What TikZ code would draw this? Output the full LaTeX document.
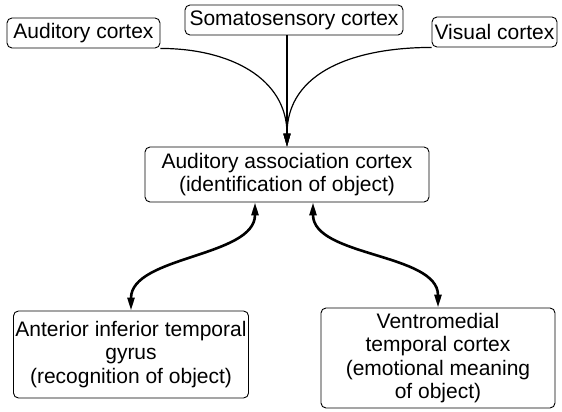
\documentclass[tikz,border=0pt]{standalone}
\usepackage{fontspec}
\setmainfont{Liberation Sans}
\usetikzlibrary{arrows.meta,positioning}

\begin{document}
\begin{tikzpicture}[x=1pt,y=1pt,>={Triangle[length=13pt,width=7pt]},
	area/.style={draw, rounded corners=5pt, line width=0.9pt, align=center, inner sep=2pt,
		font=\fontsize{21}{23.5}\selectfont}]
		\useasboundingbox (0,0) rectangle (562,412);
		\node[area, minimum width=284, minimum height=55]	(assc)	at (287,237.5)	{Auditory association cortex\\(identification of object)};
		\node[area, minimum width=153, minimum height=30]	(audi)	at (83.5,379)	{Auditory cortex};
		\node[area, minimum width=218, minimum height=30]	(soma)	at (294,392)	{Somatosensory cortex};
		\node[area, minimum width=125, minimum height=30]	(visu)	at (494.5,380)	{Visual cortex};
		\node[area, minimum width=232, minimum height=87]	(aitg)	at (131,57.5)	{Anterior inferior temporal\\gyrus\\(recognition of object)};
		\node[area, minimum width=234, minimum height=100]	(vmtc)	at (438,54)	{Ventromedial\\temporal cortex\\(emotional meaning\\of object)};

		\coordinate (left)	at ([xshift=-32pt]assc.south);
		\coordinate (right)	at ([xshift=26pt]assc.south);

		\path[->, line width=1.2pt]
		(audi.south east)	edge	[out=0, in=90, looseness=1.1]	(assc.north)
		(soma.south -| assc.north)	edge	[]	(assc.north)
		(visu.south west)	edge	[out=180, in=90, looseness=1.1]	(assc.north)
		;

		\path[<->, line width=2.6pt]
		(left)	edge	[out=-90, in=90, looseness=0.85]	(aitg.north)
		(right)	edge	[out=-90, in=90, looseness=0.85]	(vmtc.north)
		;
	\end{tikzpicture}
\end{document}
